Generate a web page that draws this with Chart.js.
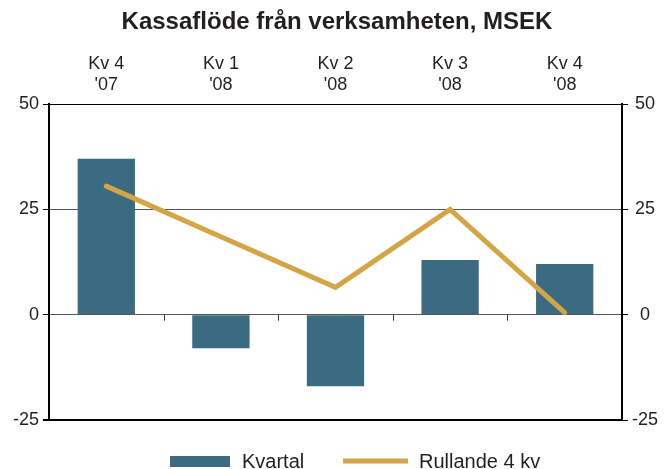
<!DOCTYPE html>
<html>
<head>
<meta charset="utf-8">
<script src="https://cdn.jsdelivr.net/npm/chart.js@4.4.1/dist/chart.umd.min.js"></script>
<style>
  body { margin: 0; background: #fff; }
  #wrap { width: 666px; height: 469px; }
</style>
</head>
<body>
<div id="wrap"><canvas id="cashChart"></canvas></div>
<script>
// Chart data
const quarters = [['Kv 4', "'07"], ['Kv 1', "'08"], ['Kv 2', "'08"], ['Kv 3', "'08"], ['Kv 4', "'08"]];
const kvartal = [37, -8, -17, 13, 12];
const rullande = [30.5, 18.5, 6.5, 25, 0.5];
const yTicks = [-25, 0, 25, 50];

const titleText = 'Kassaflöde från verksamheten, MSEK';
const barColor = '#3a6b80';
const lineColor = '#d4a445';
const textColor = '#231f20';
const fontFamily = '"Liberation Sans", Arial, sans-serif';

// Title, legend and small category marks on the zero line
const extras = {
  id: 'extras',
  afterDraw(chart) {
    const ctx = chart.ctx;
    const x = chart.scales.x;
    const y = chart.scales.y;
    ctx.save();

    // title
    ctx.fillStyle = textColor;
    ctx.font = 'bold 24px ' + fontFamily;
    ctx.textAlign = 'center';
    ctx.textBaseline = 'middle';
    ctx.fillText(titleText, 337, 22);

    // small marks between categories on zero line
    const y0 = y.getPixelForValue(0);
    ctx.strokeStyle = '#333';
    ctx.lineWidth = 1;
    for (let i = 0; i < quarters.length - 1; i++) {
      const xm = Math.round((x.getPixelForValue(i) + x.getPixelForValue(i + 1)) / 2) + 0.5;
      ctx.beginPath();
      ctx.moveTo(xm, y0);
      ctx.lineTo(xm, y0 + 6);
      ctx.stroke();
    }

    // legend
    const bars = chart.data.datasets.find(d => d.type === 'bar');
    const line = chart.data.datasets.find(d => d.type === 'line');
    ctx.font = '20px ' + fontFamily;
    ctx.textAlign = 'left';
    ctx.fillStyle = bars.backgroundColor;
    ctx.fillRect(170, 456, 60, 11);
    ctx.fillStyle = textColor;
    ctx.fillText(bars.label, 242, 462);

    ctx.strokeStyle = line.borderColor;
    ctx.lineWidth = 5;
    ctx.beginPath();
    ctx.moveTo(343, 461);
    ctx.lineTo(408, 461);
    ctx.stroke();
    ctx.fillStyle = textColor;
    ctx.fillText(line.label, 419, 462);

    ctx.restore();
  }
};

function gridColor(c) {
  const v = c.tick && c.tick.value;
  return (v === 50 || v === -25) ? '#000' : '#555';
}
function gridWidth(c) {
  const v = c.tick && c.tick.value;
  return v === -25 ? 2 : 1;
}

const yCommon = {
  min: -25,
  max: 50,
  afterBuildTicks: s => { s.ticks = yTicks.map(v => ({ value: v })); },
  border: { display: true, color: '#000', width: 2 },
  ticks: { color: textColor, font: { size: 18, family: fontFamily }, padding: 4 }
};

const ctx = document.getElementById('cashChart').getContext('2d');
const cashChart = new Chart(ctx, {
  data: {
    labels: quarters,
    datasets: [
      {
        type: 'line',
        label: 'Rullande 4 kv',
        data: rullande,
        borderColor: lineColor,
        backgroundColor: lineColor,
        borderWidth: 5,
        borderCapStyle: 'round',
        borderJoinStyle: 'miter',
        pointRadius: 0,
        tension: 0,
        yAxisID: 'y',
        order: 0
      },
      {
        type: 'bar',
        label: 'Kvartal',
        data: kvartal,
        backgroundColor: barColor,
        barPercentage: 0.5,
        categoryPercentage: 1,
        yAxisID: 'y',
        order: 1
      }
    ]
  },
  options: {
    responsive: true,
    maintainAspectRatio: false,
    animation: false,
    layout: { padding: { left: 0, right: 0, top: 0, bottom: 49 } },
    plugins: {
      legend: { display: false },
      title: { display: false },
      tooltip: { enabled: false }
    },
    scales: {
      x: {
        position: 'top',
        offset: true,
        afterFit: s => { s.height = 104; },
        grid: { display: false },
        border: { display: true, color: '#000', width: 1 },
        ticks: { color: textColor, font: { size: 18, family: fontFamily }, padding: 0, maxRotation: 0 }
      },
      y: Object.assign({}, yCommon, {
        position: 'left',
        afterFit: s => { s.width = 49; },
        grid: { color: gridColor, lineWidth: gridWidth, tickLength: 6, tickColor: '#000' }
      }),
      y2: Object.assign({}, yCommon, {
        position: 'right',
        afterFit: s => { s.width = 44; },
        grid: { display: true, drawOnChartArea: false, tickLength: 6, tickColor: '#000' },
        ticks: Object.assign({}, yCommon.ticks, { crossAlign: 'center' })
      })
    }
  },
  plugins: [extras]
});
</script>
</body>
</html>
